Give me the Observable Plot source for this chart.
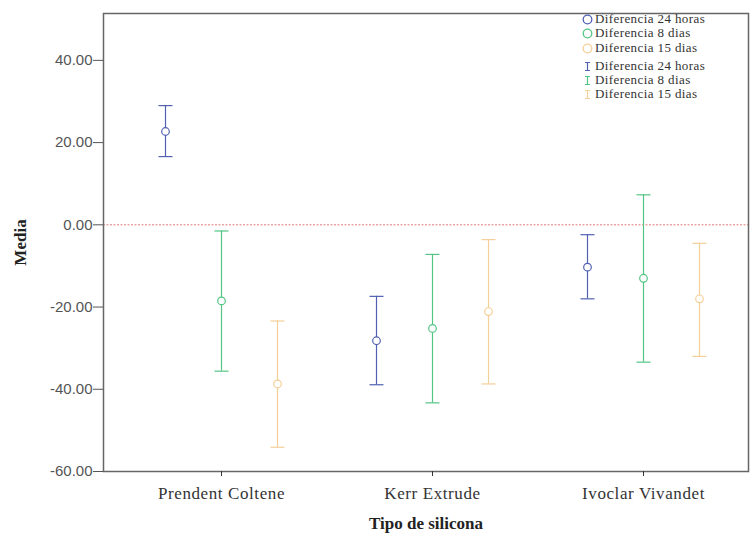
<!DOCTYPE html>
<html><head><meta charset="utf-8">
<script src="https://cdn.jsdelivr.net/npm/d3@7"></script>
<script src="https://cdn.jsdelivr.net/npm/@observablehq/plot@0.6"></script>
<style>
body{margin:0;background:#fff}
#wrap{position:relative;width:750px;height:533px;overflow:hidden}
#wrap svg{display:block}
g[aria-label="y-axis tick label"] text{font-family:"Liberation Sans",Arial,sans-serif;font-size:15px;fill:#555}
g[aria-label="x-axis tick label"] text{font-family:"Liberation Serif","Times New Roman",serif;font-size:17px;letter-spacing:0.6px;fill:#333}
g[aria-label="y-axis label"] text,g[aria-label="x-axis label"] text{font-family:"Liberation Serif","Times New Roman",serif;font-size:17px;font-weight:bold;fill:#222}
.legend{position:absolute;left:582px;top:0;font-family:"Liberation Serif","Times New Roman",serif;font-size:13px;letter-spacing:0.4px;color:#333}
.legend .row{position:absolute;left:0;height:14px;line-height:14px;white-space:nowrap;display:flex;align-items:center}
.legend svg{display:inline-block;margin-right:2px}
</style></head><body><div id="wrap"></div><script>
const categories = ["Prendent Coltene", "Kerr Extrude", "Ivoclar Vivandet"];
const seriesNames = ["Diferencia 24 horas", "Diferencia 8 dias", "Diferencia 15 dias"];
const mean24 = [22.7, -28.2, -10.3];
const low24  = [16.6, -38.9, -18.0];
const high24 = [29.0, -17.4, -2.4];
const mean8  = [-18.5, -25.2, -13.0];
const low8   = [-35.6, -43.3, -33.4];
const high8  = [-1.5, -7.2, 7.3];
const mean15 = [-38.7, -21.1, -18.0];
const low15  = [-54.1, -38.7, -32.0];
const high15 = [-23.4, -3.6, -4.5];
const yTicks = [-60, -40, -20, 0, 20, 40];

const colors = ["#5260b2", "#52c583", "#f4cf98"];
const offsets = [-56, 0, 56];
const means = [mean24, mean8, mean15];
const lows = [low24, low8, low15];
const highs = [high24, high8, high15];

const rows = [];
seriesNames.forEach((s, si) => categories.forEach((c, ci) =>
  rows.push({cat: c, series: s, mean: means[si][ci], lo: lows[si][ci], hi: highs[si][ci]})));

// horizontal cap symbol for error bar ends
const capSymbol = {
  draw(ctx, size) {
    const w = Math.sqrt(size / Math.PI);
    ctx.moveTo(-w, 0); ctx.lineTo(w, 0);
  }
};

const seriesMarks = seriesNames.flatMap((s, si) => {
  const d = rows.filter(r => r.series === s);
  const st = {stroke: colors[si], dx: offsets[si], strokeWidth: 1.2};
  return [
    Plot.ruleX(d, {x: "cat", y1: "lo", y2: "hi", ...st}),
    Plot.dot(d, {x: "cat", y: "lo", symbol: capSymbol, r: 7, fill: "none", ...st}),
    Plot.dot(d, {x: "cat", y: "hi", symbol: capSymbol, r: 7, fill: "none", ...st}),
    Plot.dot(d, {x: "cat", y: "mean", r: 3.8, fill: "white", ...st, strokeWidth: 1.2})
  ];
});

const chart = Plot.plot({
  width: 750, height: 533,
  marginLeft: 103, marginRight: 2, marginTop: 13, marginBottom: 62,
  x: {type: "point", domain: categories, range: [220, 643], padding: 0},
  y: {domain: [-60, 51.4]},
  marks: [
    Plot.ruleY([0], {stroke: "#e07878", strokeDasharray: "2,1.5", strokeWidth: 1}),
    ...seriesMarks,
    Plot.frame({stroke: "#666", strokeWidth: 1.5}),
    Plot.axisY({ticks: yTicks, tickFormat: d => d.toFixed(2), tickSize: 10, tickPadding: 1,
      color: "#555", label: "Media", labelAnchor: "center", labelOffset: 90, labelArrow: "none"}),
    Plot.axisX({tickSize: 5, tickPadding: 10, color: "#333",
      label: "Tipo de silicona", labelAnchor: "center", labelOffset: 57, labelArrow: "none"})
  ]
});
const wrap = document.getElementById("wrap");
wrap.appendChild(chart);

// legend
const leg = document.createElement("div");
leg.className = "legend";
const circleTops = [12, 26, 41];
const barTops = [59, 73, 87];
function circleIcon(c) {
  return `<svg width="11" height="11"><circle cx="5.5" cy="5.5" r="4.3" fill="white" stroke="${c}" stroke-width="1.3"/></svg>`;
}
function barIcon(c) {
  return `<svg width="11" height="11"><path d="M3,1.5H8M5.5,1.5V9.5M3,9.5H8" fill="none" stroke="${c}" stroke-width="1.2"/></svg>`;
}
seriesNames.forEach((s, i) => {
  const r = document.createElement("div");
  r.className = "row"; r.style.top = circleTops[i] + "px";
  r.innerHTML = circleIcon(colors[i]) + `<span>${s}</span>`;
  leg.appendChild(r);
});
seriesNames.forEach((s, i) => {
  const r = document.createElement("div");
  r.className = "row"; r.style.top = barTops[i] + "px";
  r.innerHTML = barIcon(colors[i]) + `<span>${s}</span>`;
  leg.appendChild(r);
});
wrap.appendChild(leg);
</script></body></html>
